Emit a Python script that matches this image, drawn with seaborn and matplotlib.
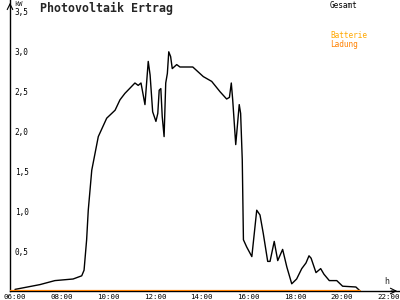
import matplotlib
matplotlib.use("Agg")
import matplotlib.pyplot as plt
import seaborn as sns
import pandas as pd

# ---- data ----
hours = [6.00, 7.07, 7.71, 8.49, 8.86, 8.96, 9.07, 9.14, 9.29, 9.57, 9.93, 10.29,
         10.50, 10.71, 11.14, 11.28, 11.40, 11.57, 11.71, 11.79, 11.90, 12.04,
         12.12, 12.18, 12.25, 12.31, 12.39, 12.46, 12.53, 12.59, 12.67, 12.74,
         12.93, 13.07, 13.36, 13.62, 14.07, 14.43, 14.79, 15.07, 15.19, 15.27,
         15.33, 15.46, 15.61, 15.67, 15.74, 15.79, 15.93, 16.15, 16.36, 16.50,
         16.64, 16.83, 16.93, 17.11, 17.26, 17.47, 17.65, 17.86, 18.07, 18.29,
         18.47, 18.60, 18.69, 18.90, 19.10, 19.24, 19.47, 19.79, 20.04, 20.61,
         20.79]
gesamt = [0.02, 0.08, 0.13, 0.15, 0.19, 0.26, 0.64, 1.01, 1.51, 1.93, 2.16, 2.26,
          2.39, 2.47, 2.60, 2.57, 2.60, 2.33, 2.87, 2.70, 2.24, 2.12,
          2.22, 2.51, 2.53, 2.18, 1.93, 2.60, 2.72, 2.99, 2.93, 2.78,
          2.83, 2.80, 2.80, 2.80, 2.68, 2.62, 2.49, 2.40, 2.42, 2.60,
          2.39, 1.83, 2.33, 2.22, 1.64, 0.64, 0.55, 0.43, 1.01, 0.95,
          0.72, 0.37, 0.37, 0.62, 0.38, 0.52, 0.30, 0.09, 0.15, 0.28,
          0.35, 0.44, 0.41, 0.23, 0.28, 0.21, 0.13, 0.13, 0.06, 0.05,
          0.00]
batt_hours = [5.79, 20.79]
batt_ladung = [0.0, 0.0]

y_ticks = [0.5, 1.0, 1.5, 2.0, 2.5, 3.0, 3.5]
y_labels = ["0,5", "1,0", "1,5", "2,0", "2,5", "3,0", "3,5"]
x_ticks = [6, 8, 10, 12, 14, 16, 18, 20, 22]
x_labels = ["06:00", "08:00", "10:00", "12:00", "14:00", "16:00", "18:00", "20:00", "22:00"]

sns.set_style("white")
plt.rcParams["font.family"] = ["DejaVu Sans Mono"]

fig = plt.figure(figsize=(4, 3), dpi=100)
ax = fig.add_axes([10 / 400, 9 / 300, 390 / 400, 291 / 300])

df_g = pd.DataFrame({"h": hours, "kW": gesamt})
df_b = pd.DataFrame({"h": batt_hours, "kW": batt_ladung})

sns.lineplot(data=df_g, x="h", y="kW", ax=ax, color="black", lw=1.0, sort=False)
sns.lineplot(data=df_b, x="h", y="kW", ax=ax, color="#FF8000", lw=1.6, sort=False,
             zorder=5)

ax.set_xlim(5.786, 22.5)
ax.set_ylim(0, 3.6375)
ax.set_xlabel("")
ax.set_ylabel("")

for s in ["top", "right"]:
    ax.spines[s].set_visible(False)
for s in ["left", "bottom"]:
    ax.spines[s].set_color("black")
    ax.spines[s].set_linewidth(1.0)

ax.set_yticks(y_ticks)
ax.set_yticklabels(y_labels, fontsize=5.6)
ax.set_xticks(x_ticks)
ax.set_xticklabels(x_labels, fontsize=5.4)
ax.tick_params(axis="y", direction="inout", length=4, width=0.8, pad=-5.5, colors="black")
ax.tick_params(axis="x", direction="inout", length=5, width=0.8, pad=-0.5, colors="black")
for lab in ax.get_yticklabels():
    lab.set_horizontalalignment("left")

# axis arrows
ax.annotate("", xy=(0, 1.0), xytext=(0, 0.97), xycoords="axes fraction",
            arrowprops=dict(arrowstyle="->", color="black", lw=0.8))
ax.annotate("", xy=(1.0, 0), xytext=(0.97, 0), xycoords="axes fraction",
            arrowprops=dict(arrowstyle="->", color="black", lw=0.8))

fig.text(14 / 400, 1 - 4 / 300, "kW", fontsize=5, va="center", ha="left")
fig.text(384 / 400, 1 - 281 / 300, "h", fontsize=6, va="center", ha="left")
fig.text(40 / 400, 1 - 8 / 300, "Photovoltaik Ertrag", fontsize=8.4,
         fontweight="bold", va="center", ha="left")
fig.text(330 / 400, 1 - 5 / 300, "Gesamt", fontsize=5.6, va="center", ha="left",
         color="black")
fig.text(330 / 400, 1 - 36 / 300, "Batterie", fontsize=5.6, va="center", ha="left",
         color="#FFA800")
fig.text(330 / 400, 1 - 44 / 300, "Ladung", fontsize=5.6, va="center", ha="left",
         color="#FF8000")

fig.savefig("out.png", dpi=100)
